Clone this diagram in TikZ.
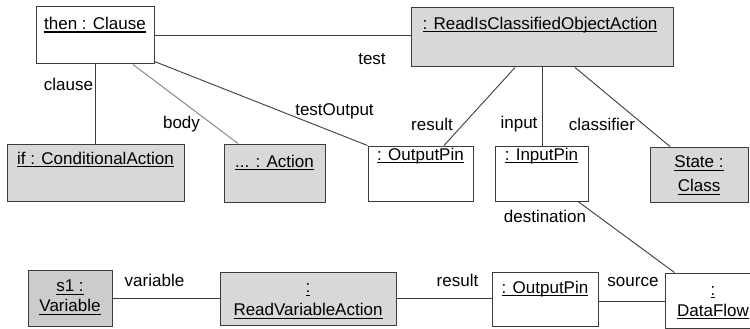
\documentclass[tikz,border=0pt]{standalone}
\usepackage{fontspec}
\setmainfont{Liberation Sans}
\definecolor{objgray}{RGB}{216,216,216}
\definecolor{vargray}{RGB}{204,204,204}
\definecolor{edge}{RGB}{60,60,60}
\newsavebox\ulbox
% underlined object name
\newcommand{\ulin}[1]{\sbox\ulbox{#1}\rlap{\rule[-3.2pt]{\wd\ulbox}{1.2pt}}\usebox\ulbox}
\tikzset{
  objbox/.style={draw=edge, line width=1pt, rectangle, inner sep=0pt},
  objname/.style={anchor=base, inner sep=0pt, align=center, font=\fontsize{17}{21}\selectfont},
  link/.style={draw=edge, line width=0.9pt},
  rolename/.style={inner sep=0pt, font=\fontsize{17}{21}\selectfont}
}
\begin{document}
\begin{tikzpicture}[x=1pt,y=-1pt]
\useasboundingbox (0,0) rectangle (750,329);
\clip (0,0) rectangle (750,329);

% object boxes
\node[objbox, fill=white,   minimum width=118pt, minimum height=57pt] (then) at (95,35.5) {};
\node[objbox, fill=objgray, minimum width=262pt, minimum height=59pt] (ric)  at (542,37.5) {};
\node[objbox, fill=objgray, minimum width=177pt, minimum height=57pt] (cond) at (95.5,172.5) {};
\node[objbox, fill=objgray, minimum width=101pt, minimum height=58pt] (act)  at (274.5,173) {};
\node[objbox, fill=white,   minimum width=105pt, minimum height=55pt] (op1)  at (420.5,173.5) {};
\node[objbox, fill=white,   minimum width=93pt,  minimum height=55pt] (ip)   at (541.5,173.5) {};
\node[objbox, fill=objgray, minimum width=98pt,  minimum height=55pt] (st)   at (699,174.5) {};
\node[objbox, fill=vargray, minimum width=84pt,  minimum height=56pt] (s1)   at (70,298) {};
\node[objbox, fill=objgray, minimum width=176pt, minimum height=53pt] (rva)  at (308,298.5) {};
\node[objbox, fill=white,   minimum width=106pt, minimum height=54pt] (op2)  at (545,299) {};
\node[objbox, fill=white,   minimum width=96pt,  minimum height=55pt] (df)   at (713,300.5) {};

% object names (two-line names are placed by their last baseline)
\node[objname] (then-t) at (95,29.5)   {\ulin{then : Clause}};
\node[objname] (ric-t)  at (540,29.3)  {\ulin{: ReadIsClassifiedObjectAction}};
\node[objname] (cond-t) at (95.5,164)  {\ulin{if : ConditionalAction}};
\node[objname] (act-t)  at (274.5,167) {\ulin{... : Action}};
\node[objname] (op1-t)  at (420.5,160) {\ulin{: OutputPin}};
\node[objname] (ip-t)   at (541.5,160) {\ulin{: InputPin}};
\node[objname, font=\fontsize{17}{24}\selectfont] (st-t)  at (699,191.5) {\ulin{State :}\\\ulin{Class}};
\node[objname, font=\fontsize{17}{20}\selectfont] (s1-t)  at (70,311.5)  {\ulin{s1 :}\\\ulin{Variable}};
\node[objname, font=\fontsize{17}{23}\selectfont] (rva-t) at (308,315.5) {\ulin{:}\\\ulin{ReadVariableAction}};
\node[objname] (op2-t)  at (545,293)   {\ulin{: OutputPin}};
\node[objname, font=\fontsize{17}{21}\selectfont] (df-t)  at (713,316) {\ulin{:}\\\ulin{DataFlow}};

% links
\draw[link] (then.east) -- (then.east -| ric.west);
\draw[link] (then.south) -- (then.south |- cond.north);
\draw[link, draw=gray] ([xshift=38pt]then.south) -- ([xshift=-36.5pt]act.north);
\draw[link] ([yshift=3pt]then.south east) -- (op1.north west);
\draw[link] ([xshift=-27pt]ric.south) -- ([xshift=23.5pt]op1.north);
\draw[link] (ric.south) -- (ric.south |- ip.north);
\draw[link] ([xshift=33pt]ric.south) -- ([xshift=-29pt]st.north);
\draw[link] ([xshift=36.5pt]ip.south) -- ([xshift=10pt]df.north west);
\draw[link] (s1.east) -- (s1.east -| rva.west);
\draw[link] (rva.east) -- (rva.east -| op2.west);
\draw[link] ([yshift=-2pt]op2.east) -- ([yshift=-2pt]op2.east -| df.west);

% role names
\node[rolename] (l-test)   at (372,59)    {test};
\node[rolename] (l-clause) at (68.5,84)   {clause};
\node[rolename] (l-body)   at (181.5,124.5) {body};
\node[rolename] (l-tout)   at (334.5,111) {testOutput};
\node[rolename] (l-res1)   at (432,124)   {result};
\node[rolename] (l-input)  at (519,124)   {input};
\node[rolename] (l-class)  at (602,124)   {classifier};
\node[rolename] (l-dest)   at (545,216)   {destination};
\node[rolename] (l-var)    at (154.5,280.5) {variable};
\node[rolename] (l-res2)   at (457.5,280.5) {result};
\node[rolename] (l-src)    at (633,282)   {source};
\end{tikzpicture}
\end{document}
